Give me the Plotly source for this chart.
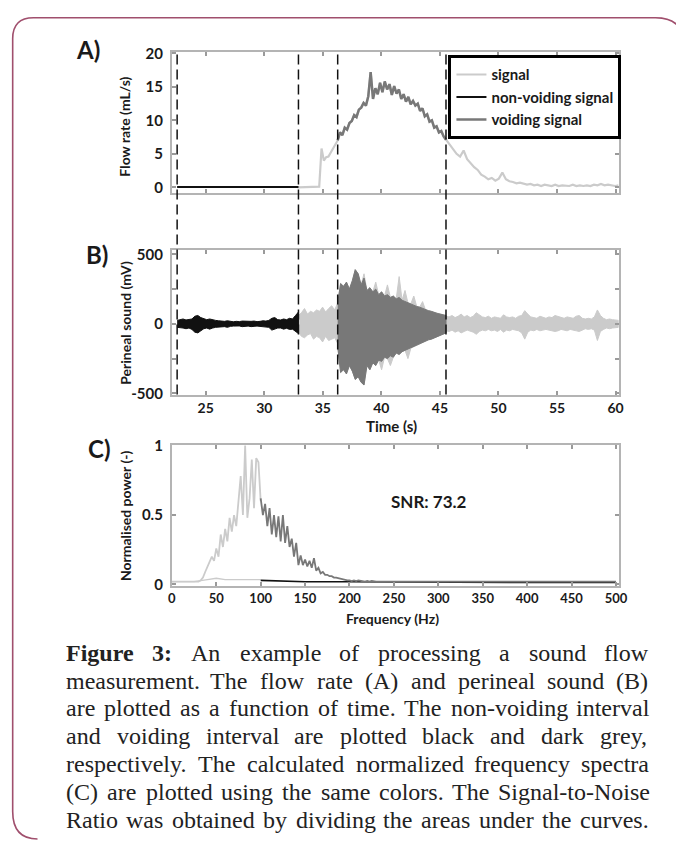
import numpy as np
import plotly.graph_objects as go

# page body has an 8px margin: the figure is sized to fill the rest of the 684x843 window
OFF = 8
FW, FH = 684 - OFF, 843 - OFF

# ------------------------------------------------------------------ data
# interval markers (s): start non-voiding, end non-voiding, start voiding, end voiding
markers_t = [22.56, 32.92, 36.27, 45.52]
t_range = [22.11, 60.26]

# Panel A: flow rate (mL/s)
flow_nv = [0.05, 0.05, 0.1, 0.05, 0.05, 0.1, 0.15, 0.1, 0.1, 0.15, 0.05, 0.05]
flow_pre = [0, 0, 0, 0, 0, 0, 0, 0, 0, 0.1, 5.8, 4.0, 4.5, 4.6, 5.2, 5.8, 6.5, 7.0]
flow_void = [7.0, 8.2, 7.8, 8.9, 8.6, 9.6, 9.9, 10.8, 10.5, 11.6, 11.9, 12.6, 12.2, 13.6,
             17.2, 13.2, 14.8, 13.9, 15.6, 14.2, 15.8, 14.6, 15.4, 13.8, 15.1, 14.0, 14.6,
             13.2, 13.9, 12.8, 13.5, 12.4, 12.9, 12.2, 12.5, 11.4, 11.8, 10.6, 10.9, 9.8,
             10.0, 8.9, 9.1, 8.2, 8.4, 7.6, 7.1]
flow_post = [7.1, 6.4, 5.6, 5.0, 4.6, 5.5, 4.2, 3.6, 3.0, 2.6, 1.9, 1.6, 1.2, 1.4, 1.0,
             1.3, 2.2, 1.2, 0.9, 0.8, 0.6, 0.7, 0.5, 0.4, 0.5, 0.3, 0.4, 0.2, 0.4, 0.3,
             0.2, 0.4, 0.2, 0.3, 0.3, 0.2, 0.4, 0.2, 0.3, 0.2, 0.3, 0.2, 0.4, 0.3, 0.5,
             0.3, 0.4, 0.3, 0.2, 0.3]

# Panel B: perineal sound envelopes (mV), upper / lower peaks
snd_nv_up = [25, 30, 35, 28, 30, 35, 55, 60, 45, 35, 30, 35, 28, 25, 22, 20, 18, 22, 18, 15,
             18, 16, 20, 18, 15, 18, 20, 16, 18, 22, 20, 25, 40, 45, 30, 28, 35, 30, 40, 35,
             60, 85]
snd_nv_lo = [-25, -28, -30, -35, -30, -40, -60, -65, -50, -35, -30, -38, -30, -25, -22, -20,
             -20, -25, -18, -16, -18, -15, -20, -18, -16, -20, -18, -16, -18, -20, -22, -25,
             -45, -40, -30, -30, -38, -32, -40, -38, -55, -70]
snd_pre_up = [60, 80, 110, 70, 90, 80, 100, 90, 120, 85, 110, 130, 100, 150]
snd_pre_lo = [-60, -90, -100, -80, -70, -110, -90, -100, -130, -90, -120, -110, -100, -140]
snd_void_up = [150, 290, 270, 300, 250, 310, 390, 360, 280, 330, 240, 260, 230, 250, 210,
               230, 200, 210, 190, 200, 180, 190, 170, 160, 150, 145, 130, 125, 120, 110,
               100, 95, 90, 80, 75, 70, 65, 60]
snd_void_lo = [-160, -350, -330, -360, -300, -340, -400, -380, -420, -440, -300, -330, -280,
               -300, -260, -270, -240, -250, -230, -240, -210, -220, -200, -190, -180, -175,
               -160, -155, -140, -135, -125, -115, -110, -100, -90, -85, -75, -65]
snd_voidall_up = [150, 290, 270, 300, 250, 310, 390, 360, 280, 360, 240, 260, 230, 300, 210,
                  230, 200, 280, 190, 200, 180, 340, 170, 240, 150, 145, 200, 125, 120, 160,
                  100, 95, 90, 80, 75, 70, 65, 60]
snd_voidall_lo = [-160, -350, -330, -360, -300, -340, -400, -380, -420, -440, -300, -330,
                  -280, -300, -260, -330, -240, -250, -300, -240, -210, -220, -200, -190,
                  -250, -175, -160, -155, -140, -135, -125, -115, -110, -100, -90, -85, -75,
                  -65]
snd_post_up = [55, 50, 60, 45, 55, 70, 50, 60, 45, 55, 80, 65, 50, 45, 55, 40, 50, 45, 40,
               65, 50, 45, 50, 40, 55, 60, 95, 70, 50, 45, 40, 55, 45, 40, 50, 45, 60, 55, 45,
               40, 50, 45, 40, 55, 60, 40, 35, 40, 35, 50, 100, 60, 40, 30, 35, 30, 25, 25]
snd_post_lo = [-50, -55, -45, -60, -50, -65, -55, -45, -50, -60, -75, -55, -45, -50, -40,
               -50, -45, -55, -40, -60, -45, -50, -40, -45, -50, -65, -110, -60, -45, -50,
               -40, -50, -45, -40, -45, -50, -55, -50, -40, -45, -50, -40, -45, -50, -55,
               -45, -35, -40, -35, -45, -120, -55, -40, -30, -35, -30, -25, -25]

# Panel C: normalised power spectra
spec_sig = [0.02, 0.02, 0.02, 0.02, 0.02, 0.02, 0.02, 0.02, 0.02, 0.02, 0.02, 0.02, 0.02,
            0.03, 0.05, 0.09, 0.13, 0.16, 0.2, 0.17, 0.26, 0.2, 0.36, 0.27, 0.4, 0.31, 0.48,
            0.38, 0.5, 0.42, 0.62, 0.78, 0.5, 1.0, 0.48, 0.62, 0.9, 0.55, 0.91, 0.88, 0.6]
spec_low_f = [0, 25, 40, 50, 60, 80, 100]
spec_low = [0.02, 0.02, 0.035, 0.045, 0.035, 0.035, 0.035]
spec_nv_f = [100, 120, 150, 200, 250, 300, 400, 500]
spec_nv = [0.03, 0.025, 0.02, 0.02, 0.018, 0.016, 0.015, 0.015]
spec_void_a = [0.62, 0.5, 0.58, 0.42, 0.55, 0.36, 0.5, 0.34, 0.49, 0.31, 0.5, 0.3, 0.42,
               0.27, 0.33, 0.2, 0.3, 0.14, 0.21, 0.14, 0.18, 0.13, 0.17, 0.12, 0.19, 0.1,
               0.12, 0.08, 0.09, 0.07, 0.07, 0.06, 0.06, 0.05, 0.05, 0.045, 0.04, 0.035,
               0.035, 0.03, 0.03, 0.025, 0.03, 0.025, 0.03, 0.025, 0.025, 0.02, 0.025, 0.02,
               0.025, 0.02, 0.02, 0.02, 0.02, 0.018, 0.02, 0.018, 0.02, 0.018, 0.018]
spec_void_b = [0.02, 0.015, 0.02, 0.018, 0.015, 0.02, 0.018, 0.02, 0.015, 0.018, 0.02,
               0.015, 0.018, 0.02, 0.015, 0.018, 0.02, 0.018, 0.015, 0.02, 0.018, 0.02,
               0.015, 0.018, 0.02]
snr_text = "SNR: 73.2"

caption_lines = [
    "**Figure **3: An example of processing a sound flow",
    "measurement. The flow rate (A) and perineal sound (B)",
    "are plotted as a function of time. The non-voiding interval",
    "and voiding interval are plotted black and dark grey,",
    "respectively. The calculated normalized frequency spectra",
    "(C) are plotted using the same colors. The Signal-to-Noise",
    "Ratio was obtained by dividing the areas under the curves.",
]

# ------------------------------------------------------------------ helpers
def X(px):  # window pixel -> paper
    return (px - OFF) / FW


def Y(py):
    return 1 - (py - OFF) / FH


def seg(a, b, vals):
    return np.linspace(a, b, len(vals))


def band(t, up, lo):
    t = np.asarray(t, float)
    return (np.concatenate([t, t[::-1]]),
            np.concatenate([np.asarray(up, float), np.asarray(lo, float)[::-1]]))


LIGHT = "#cbcbcb"
DARK = "#787878"
BLACK = "#111111"
FRAME = "#b4b4b4"
TXT = "#1a1a1a"
SANS = "Lato"

m0, m1, m2, m3 = markers_t
t_end = t_range[1]
t_nv = seg(m0, m1, flow_nv)
t_pre = seg(m1, m2, flow_pre)
t_void = seg(m2, m3, flow_void)
t_post = seg(m3, t_end, flow_post)

fig = go.Figure()

# ---- Panel A
fig.add_trace(go.Scatter(
    x=np.concatenate([t_nv, t_pre, t_void, t_post]),
    y=np.concatenate([flow_nv, flow_pre, flow_void, flow_post]),
    mode="lines", line=dict(color=LIGHT, width=2.2), name="signal",
    xaxis="x", yaxis="y"))
fig.add_trace(go.Scatter(x=t_nv, y=flow_nv, mode="lines",
                         line=dict(color=BLACK, width=2), name="non-voiding signal",
                         xaxis="x", yaxis="y"))
fig.add_trace(go.Scatter(x=t_void, y=flow_void, mode="lines",
                         line=dict(color=DARK, width=2.5), name="voiding signal",
                         xaxis="x", yaxis="y"))

# ---- Panel B (signal envelopes drawn as filled bands)
for a, b, up, lo, col in [(m1, m2, snd_pre_up, snd_pre_lo, LIGHT),
                          (m2, m3, snd_voidall_up, snd_voidall_lo, LIGHT),
                          (m3, t_end, snd_post_up, snd_post_lo, LIGHT),
                          (m0, m1, snd_nv_up, snd_nv_lo, BLACK),
                          (m2, m3, snd_void_up, snd_void_lo, DARK)]:
    bx, by = band(seg(a, b, up), up, lo)
    fig.add_trace(go.Scatter(x=bx, y=by, mode="lines", fill="toself", fillcolor=col,
                             line=dict(color=col, width=1), showlegend=False,
                             xaxis="x2", yaxis="y2"))

# ---- Panel C
f_sig = np.linspace(0, 100, len(spec_sig))
f_void = np.concatenate([np.linspace(100, 250, len(spec_void_a)),
                         np.linspace(260, 500, len(spec_void_b))])
fig.add_trace(go.Scatter(x=spec_low_f, y=spec_low, mode="lines",
                         line=dict(color=LIGHT, width=1.3), showlegend=False,
                         xaxis="x3", yaxis="y3"))
fig.add_trace(go.Scatter(x=f_sig, y=spec_sig, mode="lines",
                         line=dict(color=LIGHT, width=1.8), showlegend=False,
                         xaxis="x3", yaxis="y3"))
fig.add_trace(go.Scatter(x=spec_nv_f, y=spec_nv, mode="lines",
                         line=dict(color=BLACK, width=1.6), showlegend=False,
                         xaxis="x3", yaxis="y3"))
fig.add_trace(go.Scatter(x=f_void, y=np.concatenate([spec_void_a, spec_void_b]),
                         mode="lines", line=dict(color=DARK, width=1.8), showlegend=False,
                         xaxis="x3", yaxis="y3"))

# ------------------------------------------------------------------ axes
xdom = [X(171), X(626.5)]
A_dom = [Y(187), Y(44)]
B_dom = [Y(393), Y(246)]
C_dom = [Y(588), Y(444)]

tickfont = dict(family=SANS, size=15, weight="bold", color=TXT)
ax = dict(showline=True, linecolor=FRAME, linewidth=2, mirror="allticks", ticks="inside",
          ticklen=4, tickwidth=1.5, tickcolor="#9a9a9a", showgrid=False, zeroline=False,
          tickfont=tickfont, ticklabelstandoff=4)
xax = dict(ax, ticklabelstandoff=0, tickfont=dict(tickfont, size=14))

time_ticks = [25, 30, 35, 40, 45, 50, 55, 60]
fig.update_layout(
    xaxis=dict(xax, domain=xdom, anchor="y", range=t_range, tickvals=time_ticks,
               showticklabels=False),
    yaxis=dict(ax, domain=A_dom, anchor="x", range=[-0.78, 20.15],
               tickvals=[0, 5, 10, 15, 20]),
    xaxis2=dict(xax, domain=xdom, anchor="y2", range=t_range, tickvals=time_ticks),
    yaxis2=dict(ax, domain=B_dom, anchor="x2", range=[-509, 528],
                tickvals=[-500, -250, 0, 250, 500],
                ticktext=["-500", "", "0", "", "500"]),
    xaxis3=dict(xax, domain=xdom, anchor="y3", range=[0, 503],
                tickvals=list(range(0, 501, 50)), tickfont=dict(tickfont, size=13)),
    yaxis3=dict(ax, domain=C_dom, anchor="x3", range=[-0.01, 1.007],
                tickvals=[0, 0.5, 1], ticktext=["0", "0.5", "1"]),
)

# ------------------------------------------------------------------ shapes
shapes = []
for mt in markers_t:
    shapes.append(dict(type="line", xref="x2", yref="paper", x0=mt, x1=mt,
                       y0=B_dom[0], y1=A_dom[1],
                       line=dict(color=BLACK, width=1.5, dash="10px,5px")))
border = (f"M {X(692)},{Y(34)} Q {X(692)},{Y(8.7)} {X(664)},{Y(8.7)} "
          f"L {X(30)},{Y(8.7)} Q {X(8.7)},{Y(8.7)} {X(8.7)},{Y(30)} "
          f"L {X(8.7)},{Y(818)} Q {X(8.7)},{Y(846)} {X(34)},{Y(846)}")
shapes.append(dict(type="path", xref="paper", yref="paper", path=border,
                   line=dict(color="#a04f6d", width=1.6)))
fig.update_layout(shapes=shapes)

# ------------------------------------------------------------------ annotations
ann = []
lab = dict(family=SANS, size=24, weight="bold", color=TXT)
for txt, px, py in [("A)", 85, 41), ("B)", 95, 250), ("C)", 97, 448)]:
    ann.append(dict(text=txt, x=X(px), y=Y(py), xref="paper", yref="paper",
                    xanchor="center", yanchor="middle", showarrow=False, font=lab))
tfont = dict(family=SANS, size=14, weight="bold", color=TXT)
for txt, py in [("Flow rate (mL/s)", 120), ("Perineal sound (mV)", 320),
                ("Normalised power (-)", 516)]:
    ann.append(dict(text=txt, x=X(123), y=Y(py), xref="paper", yref="paper",
                    xanchor="center", yanchor="middle", textangle=-90, showarrow=False,
                    font=tfont))
ann.append(dict(text="Time (s)", x=X(395), y=Y(425), xref="paper", yref="paper",
                yanchor="middle", showarrow=False, font=dict(tfont, size=15)))
ann.append(dict(text="Frequency (Hz)", x=X(396), y=Y(621), xref="paper", yref="paper",
                yanchor="middle", showarrow=False, borderpad=0, font=tfont))
ann.append(dict(text=snr_text, x=289, y=0.6, xref="x3", yref="y3", showarrow=False,
                yanchor="middle",
                font=dict(family=SANS, size=17, weight="bold", color=TXT)))

# justified caption (Liberation Serif is metric-compatible with Times)
REG = {' ': 250, '(': 333, ')': 333, ',': 250, '-': 333, '.': 250, ':': 278,
       'A': 722, 'B': 667, 'C': 667, 'F': 556, 'N': 722, 'R': 667, 'S': 556, 'T': 611,
       'a': 444, 'b': 500, 'c': 444, 'd': 500, 'e': 444, 'f': 333, 'g': 500, 'h': 500,
       'i': 278, 'j': 278, 'k': 500, 'l': 278, 'm': 778, 'n': 500, 'o': 500, 'p': 500,
       'q': 500, 'r': 333, 's': 389, 't': 278, 'u': 500, 'v': 500, 'w': 722, 'x': 500,
       'y': 500, 'z': 444}
BOLD = {'F': 611, 'i': 278, 'g': 500, 'u': 556, 'r': 444, 'e': 444, '3': 500, ':': 333}
CAP_FS = 24
CAP_L, CAP_R = 62, 655
CAP_Y0, CAP_DY = 656, 28.5


def wwidth(word, bold):
    tab = BOLD if bold else REG
    return sum(tab.get(c, REG.get(c, 500)) for c in word) * CAP_FS / 1000


for li, line in enumerate(caption_lines):
    words = []
    for w in line.replace("**Figure **3:", "\x01Figure \x013:").split(" "):
        if w.startswith("\x01"):
            words.append((w[1:], True))
        elif w:
            words.append((w, False))
    widths = [wwidth(w, b) for w, b in words]
    gap = (CAP_R - CAP_L - sum(widths)) / (len(words) - 1)
    xpos = CAP_L
    for (w, b), wd in zip(words, widths):
        ann.append(dict(text=f"<b>{w}</b>" if b else w, x=X(xpos),
                        y=Y(CAP_Y0 + li * CAP_DY),
                        xref="paper", yref="paper", xanchor="left", yanchor="middle",
                        showarrow=False, borderpad=0,
                        font=dict(family="Liberation Serif", size=CAP_FS, color="#222")))
        xpos += wd + gap
fig.update_layout(annotations=ann)

fig.update_layout(
    width=FW, height=FH, margin=dict(l=0, r=0, t=0, b=0),
    paper_bgcolor="white", plot_bgcolor="white",
    legend=dict(x=X(453), y=Y(47), xanchor="left", yanchor="top", bgcolor="white",
                bordercolor="black", borderwidth=3, tracegroupgap=0,
                font=dict(family=SANS, size=15, weight="bold", color=TXT)),
)

fig.write_html("out.html")
